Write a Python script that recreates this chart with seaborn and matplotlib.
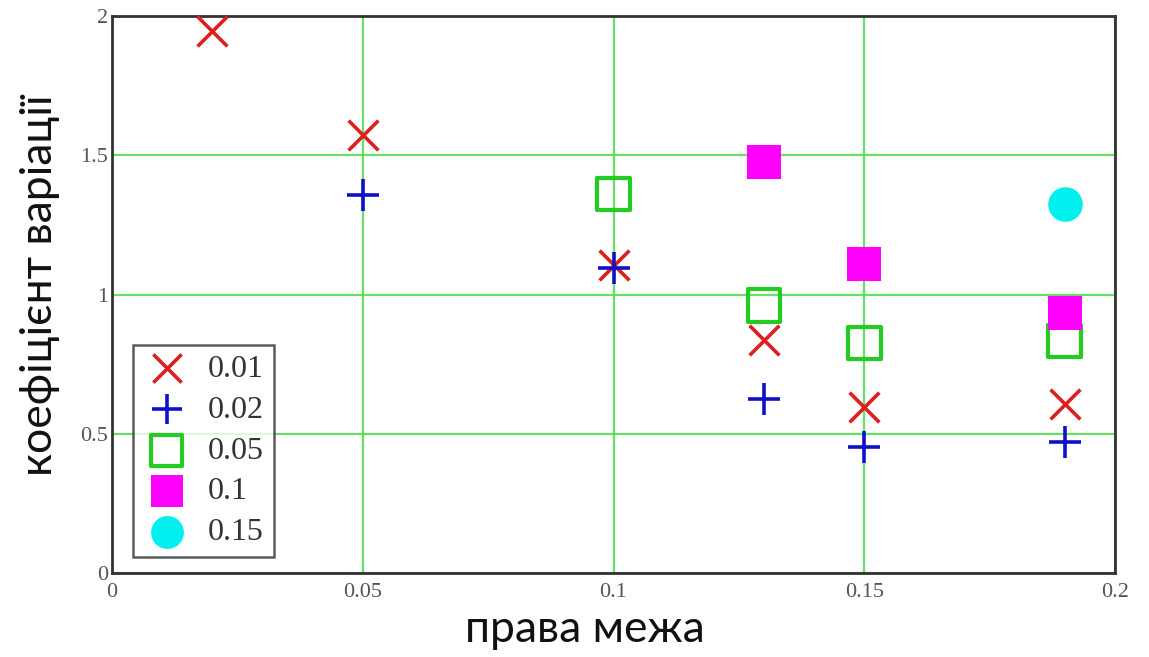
import matplotlib
matplotlib.use("Agg")
import matplotlib.pyplot as plt
import seaborn as sns
import pandas as pd

# Right boundary values and coefficient of variation for each left boundary level
levels = ["0.01", "0.02", "0.05", "0.1", "0.15"]

x_001 = [0.02, 0.05, 0.10, 0.13, 0.15, 0.19]
y_001 = [1.945, 1.573, 1.106, 0.838, 0.596, 0.607]

x_002 = [0.05, 0.10, 0.13, 0.15, 0.19]
y_002 = [1.357, 1.095, 0.625, 0.452, 0.470]

x_005 = [0.10, 0.13, 0.15, 0.19]
y_005 = [1.361, 0.962, 0.826, 0.833]

x_01 = [0.13, 0.15, 0.19]
y_01 = [1.476, 1.110, 0.934]

x_015 = [0.19]
y_015 = [1.325]

x_ticks = [0, 0.05, 0.1, 0.15, 0.2]
x_tick_labels = ["0", "0.05", "0.1", "0.15", "0.2"]
y_ticks = [0, 0.5, 1, 1.5, 2]
y_tick_labels = ["0", "0.5", "1", "1.5", "2"]

series = [
    (levels[0], x_001, y_001, "x", "#dd2020", True, 460),
    (levels[1], x_002, y_002, "+", "#1010c8", True, 520),
    (levels[2], x_005, y_005, "s", "#22cc22", False, 560),
    (levels[3], x_01, y_01, "s", "#ff00ff", True, 580),
    (levels[4], x_015, y_015, "o", "#00f0f0", True, 620),
]

sns.set_theme(style="white")
plt.rcParams["font.family"] = ["Liberation Serif", "DejaVu Serif"]

fig = plt.figure(figsize=(11.49, 6.57), dpi=100)
ax = fig.add_axes([112 / 1149, 84 / 657, 1003 / 1149, 557 / 657])

for label, xs, ys, marker, color, filled, size in series:
    df = pd.DataFrame({"x": xs, "y": ys})
    n_before = len(ax.collections)
    sns.scatterplot(data=df, x="x", y="y", marker=marker, color=color,
                    s=size, ax=ax, label=label, zorder=3,
                    linewidth=2.6 if marker in ("x", "+") else 0)
    coll = ax.collections[n_before]
    if marker in ("x", "+"):
        coll.set_edgecolor(color)
        coll.set_linewidth(2.6)
    elif not filled:
        coll.set_facecolor("none")
        coll.set_edgecolor(color)
        coll.set_linewidth(3.0)
    else:
        coll.set_facecolor(color)
        coll.set_edgecolor(color)
        coll.set_linewidth(0)

ax.set_xlim(0, 0.2)
ax.set_ylim(0, 2)
ax.set_xticks(x_ticks)
ax.set_xticklabels(x_tick_labels)
ax.set_yticks(y_ticks)
ax.set_yticklabels(y_tick_labels)
ax.tick_params(axis="both", length=0, labelsize=16, colors="#555555")
ax.tick_params(axis="x", pad=7)
ax.tick_params(axis="y", pad=3)

ax.grid(True, color="#55dd55", linewidth=1.6, alpha=0.9)
ax.set_axisbelow(True)
for spine in ax.spines.values():
    spine.set_color("#333333")
    spine.set_linewidth(2.0)
    spine.set_visible(True)

ax.set_xlabel("права межа", family=["Lato", "DejaVu Sans"], fontsize=32,
              color="#111111", va="center")
ax.set_ylabel("коефіцієнт варіації", family=["Lato", "DejaVu Sans"],
              fontsize=32, color="#111111", va="center")
ax.xaxis.set_label_coords((585 - 112) / 1003, (573 - 630) / 557)
ax.yaxis.set_label_coords((40 - 112) / 1003, (573 - 285) / 557)

leg = ax.legend(loc="lower left", bbox_to_anchor=(0.021, 0.029), frameon=True,
                fancybox=False, edgecolor="#333333", fontsize=23,
                handletextpad=0.55, borderpad=0.3, labelspacing=0.36,
                handlelength=1.5, borderaxespad=0.0, markerscale=0.95)
leg.get_frame().set_linewidth(1.8)
for t in leg.get_texts():
    t.set_color("#333333")

fig.savefig("out.png", dpi=100, facecolor="white")
